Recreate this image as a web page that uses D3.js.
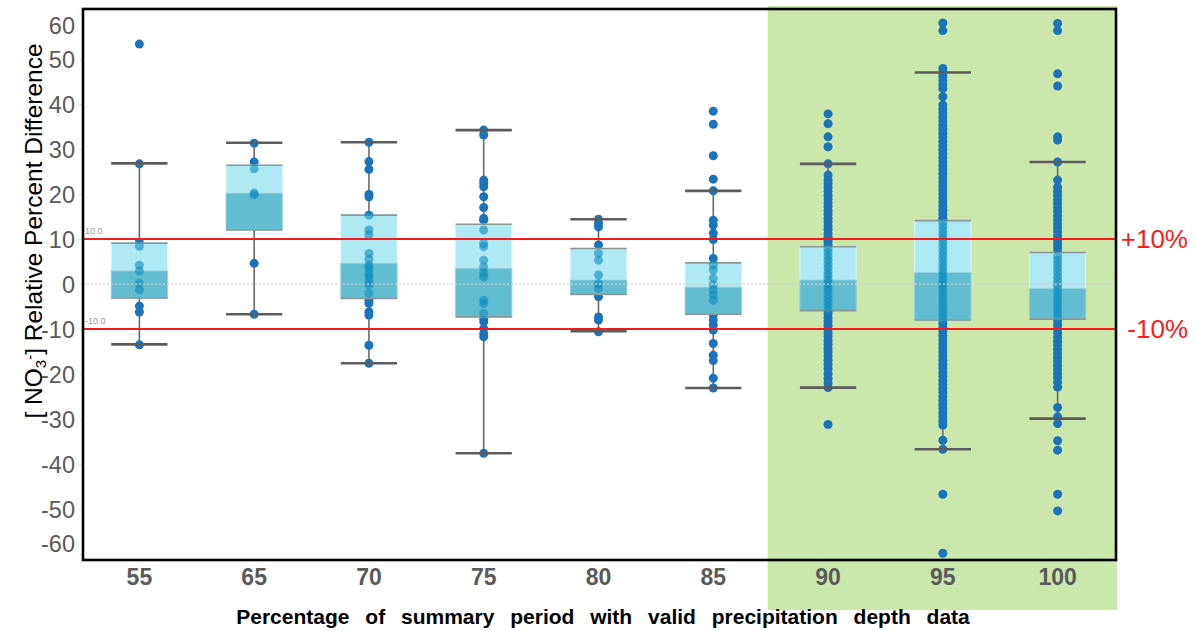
<!DOCTYPE html>
<html>
<head>
<meta charset="utf-8">
<script src="https://cdn.jsdelivr.net/npm/d3@7"></script>
<style>
html,body{margin:0;padding:0;background:#fff;}
svg{display:block;font-family:"Liberation Sans",Arial,sans-serif;}
</style>
</head>
<body>
<svg id="chart" width="1196" height="631"></svg>
<script>
// ---- data ----
const categories = ["55","65","70","75","80","85","90","95","100"];
const q1Values     = [-3.1, 12.0, -3.2, -7.3, -2.3, -6.7, -5.9, -8.0, -7.8];
const medianValues = [ 2.9, 20.2,  4.6,  3.5,  0.9, -0.7,  0.9,  2.6, -1.0];
const q3Values     = [ 9.1, 26.4, 15.3, 13.3,  7.9,  4.7,  8.3, 14.1,  7.0];
const lowWhiskers  = [-13.4, -6.7, -17.6, -37.6, -10.5, -23.1, -23.0, -36.7, -29.9];
const highWhiskers = [26.8, 31.4, 31.5, 34.2, 14.4, 20.7, 26.7, 47.0, 27.1];

const points55 = [53.3, 26.7, 9.3, 8.4, 4.2, 2.9, 0.2, -1.3, -4.9, -6.2, -13.5];
const points65 = [31.3, 27.1, 25.6, 20.2, 19.8, 4.6, -6.7];
const points70 = [31.5, 27.2, 25.5, 19.9, 19.4, 15.3, 12.0, 10.9, 6.8, 5.5, 4.2, 3.5, 2.4, 1.6, 0.5, -0.2, -2.1, -3.6, -4.3, -6.2, -6.9, -13.6, -17.6];
const points75 = [34.2, 33.1, 23.1, 22.4, 21.6, 19.4, 17.0, 14.6, 14.2, 12.0, 9.0, 8.3, 5.3, 3.8, 2.4, 1.6, -3.6, -4.3, -6.5, -7.6, -8.4, -9.9, -11.0, -11.7, -37.6];
const points80 = [14.4, 13.5, 12.7, 8.7, 6.8, 5.3, 2.0, 0.1, -1.0, -2.8, -7.3, -8.0, -10.6];
const points85 = [38.4, 35.5, 28.5, 23.3, 20.7, 14.2, 13.1, 11.3, 9.9, 5.7, 4.2, 3.1, 1.3, -0.2, -1.3, -2.4, -3.6, -6.9, -8.0, -9.1, -10.2, -13.2, -15.8, -17.0, -20.9, -23.1];
const points90 = [37.8, 35.6, 32.7, 30.5, 26.7, 24.2, 23.1, 22.3, 21.4, 20.6, 19.7, 18.9, 18.0, 17.2, 16.3, 15.5, 14.6, 13.8, 12.9, 12.1, 11.2, 10.4, 9.5, 8.7, 7.8, 7.0, 6.1, 5.3, 4.4, 3.6, 2.7, 1.9, 1.0, 0.2, -0.7, -1.5, -2.4, -3.2, -4.1, -4.9, -5.8, -6.6, -7.5, -8.3, -9.2, -10.0, -10.9, -11.7, -12.6, -13.4, -14.3, -15.1, -16.0, -16.9, -17.8, -18.8, -19.9, -21.0, -22.0, -23.0, -31.2];
const points95 = [58.0, 56.3, 47.9, 47.0, 46.1, 45.2, 44.3, 43.4, 41.6, 39.8, 38.9, 38.0, 37.1, 36.2, 35.3, 34.4, 33.5, 32.6, 31.7, 30.8, 29.9, 29.0, 28.1, 27.2, 26.3, 25.4, 24.5, 23.6, 22.7, 21.8, 20.9, 20.0, 19.1, 18.2, 17.3, 16.4, 15.5, 14.6, 13.7, 12.8, 11.9, 11.0, 10.1, 9.2, 8.3, 7.4, 6.5, 5.6, 4.7, 3.8, 2.9, 2.0, 1.1, 0.2, -0.7, -1.6, -2.5, -3.4, -4.3, -5.2, -6.1, -7.0, -7.9, -8.8, -9.7, -10.6, -11.5, -12.4, -13.3, -14.2, -15.1, -16.0, -16.9, -17.8, -18.7, -19.6, -20.5, -21.4, -22.3, -23.2, -24.1, -25.0, -25.9, -26.8, -27.7, -28.6, -29.5, -30.4, -31.3, -34.7, -36.7, -46.7, -59.8];
const points100 = [57.9, 56.3, 46.7, 44.0, 32.7, 32.0, 27.1, 23.1, 21.5, 20.6, 19.7, 18.8, 17.9, 17.0, 16.1, 15.2, 14.3, 13.4, 12.5, 11.6, 10.7, 9.8, 8.9, 8.0, 7.1, 6.2, 5.3, 4.4, 3.5, 2.6, 1.7, 0.8, -0.1, -1.0, -1.9, -2.8, -3.7, -4.6, -5.5, -6.4, -7.3, -8.2, -9.1, -10.0, -10.9, -11.8, -12.7, -13.6, -14.5, -15.4, -16.3, -17.2, -18.1, -19.0, -19.9, -20.8, -21.8, -22.9, -27.4, -29.5, -31.0, -34.8, -36.9, -46.7, -50.4];
const pointSets = [points55, points65, points70, points75, points80, points85, points90, points95, points100];

const yTickValues = [60, 50, 40, 30, 20, 10, 0, -10, -20, -30, -40, -50, -60];
const limitValues = [10, -10];
const limitLabels = ["+10%", "-10%"];
const limitSmallLabels = ["10.0", "-10.0"];
const highlightCategories = ["90", "95", "100"];
const yTitleParts = ["[ NO", "3", "-", "] Relative Percent Difference"];
const xTitle = "Percentage of summary period with valid precipitation depth data";

// ---- layout ----
const svg = d3.select("#chart");
const plot = {left: 83, right: 1116, top: 9, bottom: 560};

const y = d3.scaleLinear().domain([-61.3, 61.1]).range([plot.bottom, plot.top]);
const x = d3.scaleBand().domain(categories).range([82, 1115]).padding(0);
const boxW = x.bandwidth() * 0.49;
const cx = c => x(c) + x.bandwidth() / 2;

// green highlight
const hx0 = x(highlightCategories[0]) - 3;
svg.append("rect")
  .attr("x", hx0).attr("y", 6)
  .attr("width", plot.right + 1 - hx0).attr("height", 610 - 6)
  .attr("fill", "#cce7ab");

// y axis
const yAxis = d3.axisLeft(y).tickValues(yTickValues).tickSize(4).tickPadding(4).tickFormat(d => String(d));
const gy = svg.append("g").attr("transform", `translate(${plot.left},0)`).call(yAxis);
gy.select(".domain").remove();
gy.selectAll(".tick line").attr("stroke", "#e3e3e3");
gy.selectAll(".tick text")
  .attr("fill", "#5a5a5a").style("font-size", "23.5px")
  .style("font-family", "'Liberation Sans',Arial,sans-serif")
  .attr("dy", d => d === 60 ? "0.82em" : d === -60 ? "-0.12em" : "0.36em");

// x axis
const xAxis = d3.axisBottom(x).tickSize(0).tickPadding(9);
const gx = svg.append("g").attr("transform", `translate(0,${plot.bottom})`).call(xAxis);
gx.select(".domain").remove();
gx.selectAll(".tick text")
  .attr("fill", "#5a5a5a").style("font-size", "23px").style("font-weight", "bold")
  .style("font-family", "'Liberation Sans',Arial,sans-serif");

// boxes
const groups = svg.append("g").selectAll("g.cat").data(categories).join("g").attr("class", "cat");

groups.each(function(c, i) {
  const g = d3.select(this);
  const xc = cx(c);
  const pts = pointSets[i];
  g.append("line")
    .attr("x1", xc).attr("x2", xc)
    .attr("y1", y(lowWhiskers[i])).attr("y2", y(highWhiskers[i]))
    .attr("stroke", "#6a6a6a").attr("stroke-width", 1.6);
  g.selectAll("circle.pt").data(pts).join("circle").attr("class", "pt")
    .attr("cx", xc).attr("cy", d => y(d)).attr("r", 4.5)
    .attr("fill", "#1b74b9");
  [lowWhiskers[i], highWhiskers[i]].forEach(v => {
    g.append("line")
      .attr("x1", xc - boxW / 2).attr("x2", xc + boxW / 2)
      .attr("y1", y(v)).attr("y2", y(v))
      .attr("stroke", "#5c5c5c").attr("stroke-width", 2.6);
  });
  g.append("rect")
    .attr("x", xc - boxW / 2).attr("width", boxW)
    .attr("y", y(q3Values[i])).attr("height", y(medianValues[i]) - y(q3Values[i]))
    .attr("fill", "#afe9f3").attr("stroke", "#d6f6fa").attr("stroke-width", 1);
  g.append("rect")
    .attr("x", xc - boxW / 2).attr("width", boxW)
    .attr("y", y(medianValues[i])).attr("height", y(q1Values[i]) - y(medianValues[i]))
    .attr("fill", "#62bdd0").attr("stroke", "#8ed0de").attr("stroke-width", 1);
  [q3Values[i], q1Values[i]].forEach(v => {
    g.append("line")
      .attr("x1", xc - boxW / 2).attr("x2", xc + boxW / 2)
      .attr("y1", y(v)).attr("y2", y(v))
      .attr("stroke", "#8a9898").attr("stroke-width", 1.6);
  });
  g.selectAll("circle.inner").data(pts.filter(d => d <= q3Values[i] && d >= q1Values[i])).join("circle").attr("class", "inner")
    .attr("cx", xc).attr("cy", d => y(d)).attr("r", 4.5)
    .attr("fill", "#0e8cc0").attr("fill-opacity", 0.6);
});

// zero dotted line
svg.append("line")
  .attr("x1", plot.left).attr("x2", plot.right)
  .attr("y1", y(0)).attr("y2", y(0))
  .attr("stroke", "#cfcfcf").attr("stroke-width", 1.2).attr("stroke-dasharray", "2,2");

// limit lines
limitValues.forEach((v, k) => {
  svg.append("line")
    .attr("x1", plot.left).attr("x2", plot.right)
    .attr("y1", y(v)).attr("y2", y(v))
    .attr("stroke", "#f21c1c").attr("stroke-width", 2);
  svg.append("text")
    .attr("x", 1188).attr("y", y(v)).attr("dy", "0.36em")
    .attr("text-anchor", "end").attr("fill", "#ff1a1a")
    .style("font-size", "26px").text(limitLabels[k]);
  svg.append("text")
    .attr("x", plot.left + 2).attr("y", y(v) - 5)
    .attr("fill", "#9a9a9a").style("font-size", "9px").text(limitSmallLabels[k]);
});

// frame
svg.append("rect")
  .attr("x", plot.left).attr("y", plot.top)
  .attr("width", plot.right - plot.left).attr("height", plot.bottom - plot.top)
  .attr("fill", "none").attr("stroke", "#000").attr("stroke-width", 2.6);

// y title
const yt = svg.append("text")
  .attr("transform", "translate(42,231) rotate(-90)")
  .attr("text-anchor", "middle").attr("fill", "#000")
  .style("font-size", "24.5px");
yt.append("tspan").text(yTitleParts[0]);
yt.append("tspan").attr("baseline-shift", "-25%").style("font-size", "15px").text(yTitleParts[1]);
yt.append("tspan").attr("baseline-shift", "45%").style("font-size", "15px").text(yTitleParts[2]);
yt.append("tspan").text(yTitleParts[3]);

// x title
svg.append("text")
  .attr("x", 603).attr("y", 624)
  .attr("text-anchor", "middle").attr("fill", "#000")
  .style("font-size", "21px").style("font-weight", "bold").style("word-spacing", "10px")
  .text(xTitle);
</script>
</body>
</html>
